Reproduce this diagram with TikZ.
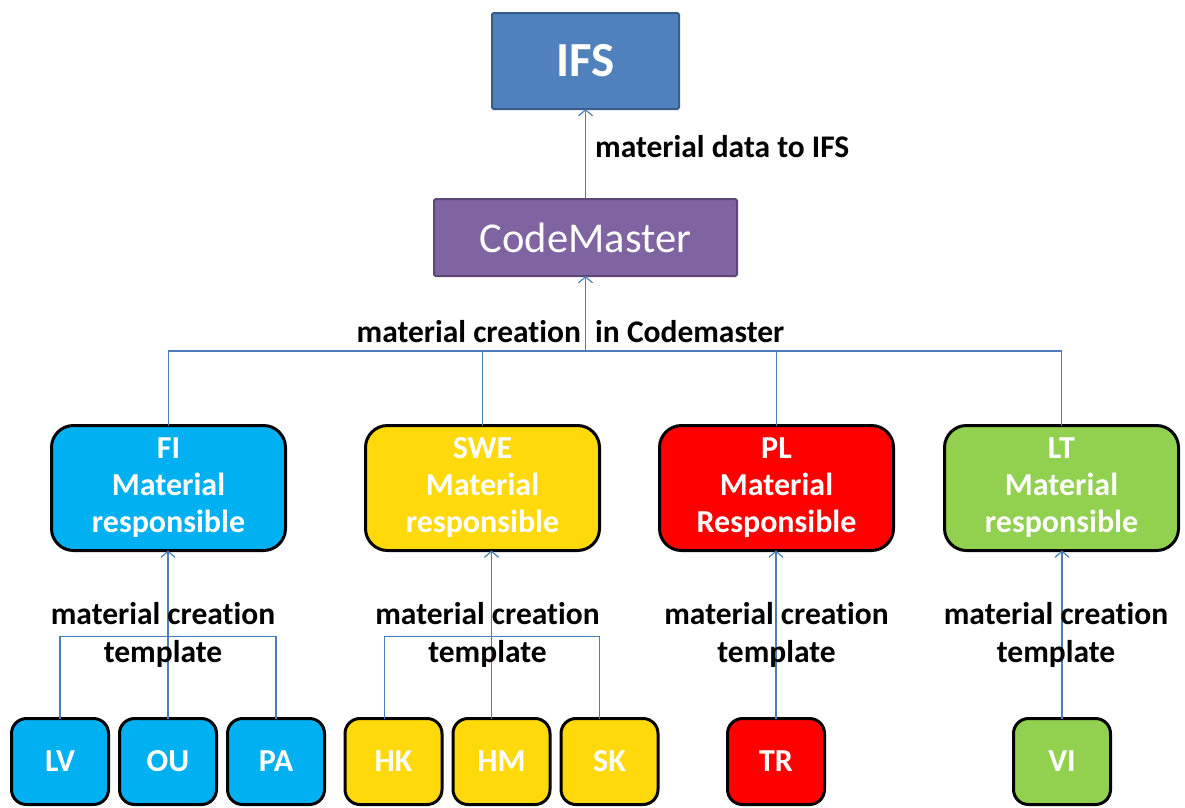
\documentclass[tikz,border=0pt]{standalone}
\usepackage{fontspec}
\setmainfont[Ligatures=NoCommon]{Carlito}
\usetikzlibrary{arrows.meta,positioning,calc}
\definecolor{ink}{RGB}{0,0,0}
\definecolor{wire}{RGB}{74,126,187}
\definecolor{ifsfill}{RGB}{79,129,189}
\definecolor{ifsline}{RGB}{56,93,138}
\definecolor{cmfill}{RGB}{128,100,162}
\definecolor{cmline}{RGB}{92,71,118}
\definecolor{fiblue}{RGB}{0,176,240}
\definecolor{sweyellow}{RGB}{255,217,10}
\definecolor{plred}{RGB}{255,0,0}
\definecolor{ltgreen}{RGB}{146,208,80}
\tikzset{
  box/.style={inner sep=0pt, outer sep=0pt, align=center, text=white, font=\fontsize{32}{37}\selectfont\bfseries},
  sysbox/.style={box, line width=2pt, rounded corners=1.5pt},
  head/.style={box, draw=ink, line width=3pt, rounded corners=22pt, minimum width=234pt, minimum height=125pt},
  unit/.style={box, draw=ink, line width=3pt, rounded corners=15pt, minimum width=97pt, minimum height=86pt},
  link/.style={draw=wire, line width=1.2pt},
  flow/.style={link, -{Straight Barb[length=6pt,width=14pt,line width=1.2pt]}},
  lbl/.style={font=\fontsize{31.5}{38}\selectfont\bfseries, text=ink, inner sep=0pt, align=center},
}

\begin{document}
\begin{tikzpicture}[x=1pt, y=-1pt, node distance=11pt]
  \useasboundingbox (0,0) rectangle (1185,807);

  % systems
  \node[sysbox, fill=ifsfill, draw=ifsline, minimum width=187pt, minimum height=96pt,
        font=\fontsize{49}{52}\selectfont\bfseries] (ifs) at (585.5,61) {IFS};
  \node[sysbox, fill=cmfill, draw=cmline, minimum width=303pt, minimum height=77pt,
        font=\fontsize{42.5}{46}\selectfont] (cm) at (585.5,237.5) {CodeMaster};

  % country heads
  \node[head, fill=fiblue] (fi) at (168.5,488) {FI\\Material\\responsible};
  \node[head, fill=sweyellow] (swe) at (482.5,488) {SWE\\Material\\responsible};
  \node[head, fill=plred] (pl) at (776.5,488) {PL\\Material\\Responsible};
  \node[head, fill=ltgreen] (lt) at (1061.5,488) {LT\\Material\\responsible};

  % units
  \node[unit, fill=fiblue] (lv) at (60,761.5) {LV};
  \node[unit, fill=fiblue, right=of lv] (ou) {OU};
  \node[unit, fill=fiblue, right=of ou] (pa) {PA};
  \node[unit, fill=sweyellow] (hk) at (393.5,761.5) {HK};
  \node[unit, fill=sweyellow, right=of hk] (hm) {HM};
  \node[unit, fill=sweyellow, right=of hm] (sk) {SK};
  \node[unit, fill=plred] (tr) at (776,761.5) {TR};
  \node[unit, fill=ltgreen] (vi) at (1062,761.5) {VI};

  % top level
  \draw[flow] (cm) -- (ifs);
  \node[lbl, anchor=west] (datalbl) at (595,147) {material data to IFS};
  \coordinate (bus) at (585.5,351);
  \draw[link] (fi.north) |- (bus) -| (lt.north);
  \draw[link] (swe.north) -- (swe.north |- bus);
  \draw[link] (pl.north) -- (pl.north |- bus);
  \draw[flow] (bus) -- (cm);
  \node[lbl] (cmlbl) at (570.5,332) {material creation~ in Codemaster};

  % FI group
  \draw[link] (lv.north) -- ++(0,-82) -| (pa.north);
  \draw[flow] (ou.north) -- (ou.north |- fi.south);
  \node[lbl] (filbl) at (163,635) {material creation\\template};

  % SWE group
  \draw[link] ([xshift=-9pt]hk.north) -- ++(0,-82) -| ([xshift=-10pt]sk.north);
  \draw[flow] ([xshift=-10pt]hm.north) -- ([xshift=-10pt]hm.north |- swe.south);
  \node[lbl] (swelbl) at (487.5,635) {material creation\\template};

  % PL group
  \draw[flow] (tr.north) -- (tr.north |- pl.south);
  \node[lbl] (pllbl) at (776.5,635) {material creation\\template};

  % LT group
  \draw[flow] (vi.north) -- (vi.north |- lt.south);
  \node[lbl] (ltlbl) at (1056,635) {material creation\\template};
\end{tikzpicture}
\end{document}
